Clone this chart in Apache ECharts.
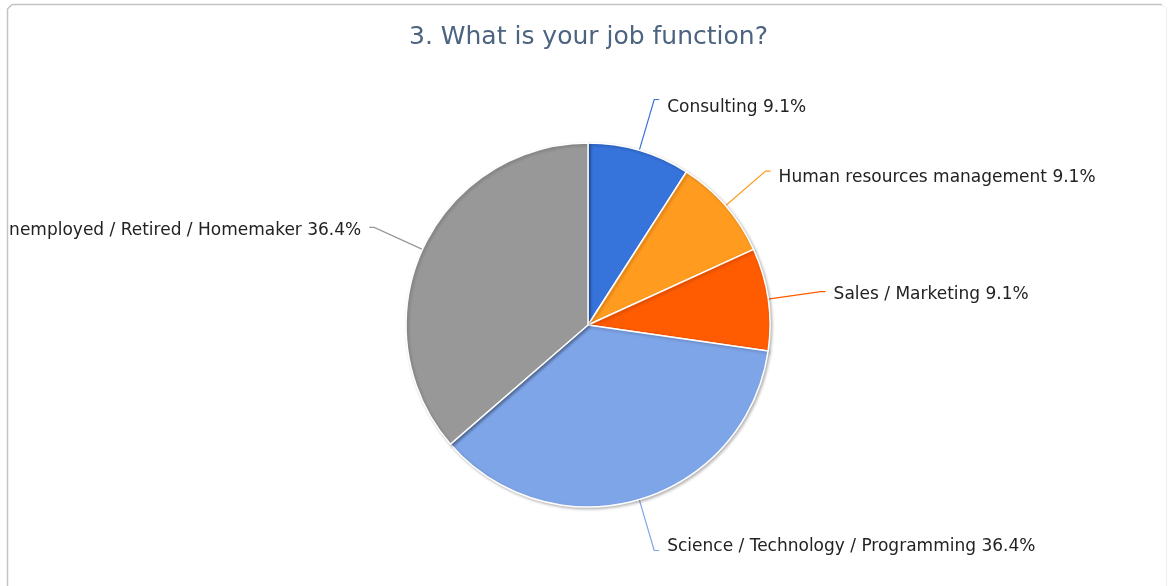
<!DOCTYPE html>
<html>
<head>
<meta charset="utf-8">
<title>3. What is your job function?</title>
<script src="https://cdn.jsdelivr.net/npm/echarts@6/dist/echarts.min.js"></script>
<style>
  html, body { margin: 0; padding: 0; background: #ffffff; }
  #chart { width: 1168px; height: 586px; }
</style>
</head>
<body>
<div id="chart"></div>
<script>
// Survey answers: job function of respondents
const titleText = '3. What is your job function?';
const categories = [
  'Consulting',
  'Human resources management',
  'Sales / Marketing',
  'Science / Technology / Programming',
  'Unemployed / Retired / Homemaker'
];
const responses = [1, 1, 1, 4, 4];
const percentLabels = ['9.1%', '9.1%', '9.1%', '36.4%', '36.4%'];
const sliceColors = ['#3673db', '#ff9b1f', '#ff5b00', '#7ea5e8', '#989898'];

const chart = echarts.init(document.getElementById('chart'), null, { renderer: 'canvas' });

// spacer line heights that nudge each label below (+) or above (-) its leader line end
const labelNudge = [16, 12, 6, -8, 6];

function labelText(p) {
  const txt = '{t|' + p.name + ' ' + p.data.pct + '}';
  const n = labelNudge[p.dataIndex];
  if (n > 0) return '{gapA| }\n' + txt;
  if (n < 0) return txt + '\n{gapB| }';
  return txt;
}

const pieData = categories.map((name, i) => {
  const n = Math.abs(labelNudge[i]);
  return {
    name: name,
    value: responses[i],
    pct: percentLabels[i],
    itemStyle: { color: sliceColors[i] },
    label: {
      rich: {
        gapA: { fontSize: 1, lineHeight: n, height: n },
        gapB: { fontSize: 1, lineHeight: n, height: n }
      }
    },
    labelLine: { lineStyle: { color: sliceColors[i] } }
  };
});

chart.setOption({
  backgroundColor: '#ffffff',
  animation: false,
  title: {
    text: titleText,
    left: 404,
    top: 20,
    textStyle: {
      fontFamily: 'DejaVu Sans',
      fontSize: 25,
      fontWeight: 'normal',
      color: '#4d6480'
    }
  },
  graphic: [
    // panel edge: hides anything drawn left of the frame
    { type: 'rect', z: 100, shape: { x: 0, y: 0, width: 7, height: 586 },
      style: { fill: '#ffffff' }, silent: true },
    // frame around the chart panel
    { type: 'polyline', z: 101, shape: { points: [[7.5, 590], [7.5, 9], [12, 4.5], [1162, 4.5]] },
      style: { stroke: '#c4c4c4', lineWidth: 1.5, fill: null }, silent: true },
    { type: 'polyline', z: 101, shape: { points: [[1162, 4.5], [1166.5, 9], [1166.5, 590]] },
      style: { stroke: '#eeeef4', lineWidth: 1, fill: null }, silent: true }
  ],
  series: [{
    type: 'pie',
    center: [588, 325],
    radius: 182,
    startAngle: 90,
    clockwise: true,
    data: pieData,
    itemStyle: {
      borderColor: '#ffffff',
      borderWidth: 1.5,
      shadowBlur: 3,
      shadowOffsetX: 1.5,
      shadowOffsetY: 1.5,
      shadowColor: 'rgba(0,0,0,0.25)'
    },
    label: {
      show: true,
      position: 'outside',
      formatter: labelText,
      fontFamily: 'DejaVu Sans',
      fontSize: 17,
      color: '#222222',
      overflow: 'none',
      distanceToLabelLine: 8,
      rich: {
        t: { fontFamily: 'DejaVu Sans', fontSize: 17, color: '#222222', lineHeight: 20 }
      }
    },
    labelLine: {
      show: true,
      length: 53,
      length2: 5,
      lineStyle: { width: 1.2 }
    },
    emphasis: { disabled: true }
  }]
});
</script>
</body>
</html>
